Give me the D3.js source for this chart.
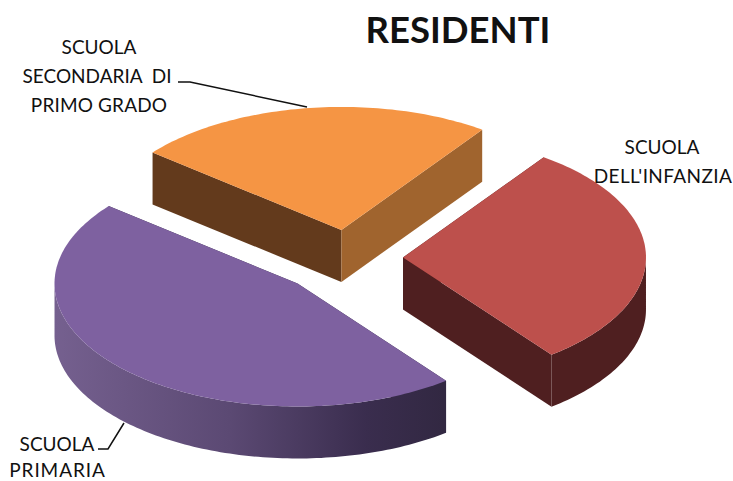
<!DOCTYPE html>
<html>
<head>
<meta charset="utf-8">
<script src="https://cdn.jsdelivr.net/npm/d3@7"></script>
<style>
html, body { margin: 0; padding: 0; background: #fff; }
text { font-family: Lato, "Open Sans", sans-serif; fill: #111; }
</style>
</head>
<body>
<div id="my_chart"></div>
<script>
// values (share of the pie, in %)
var categories = ["SCUOLA SECONDARIA DI PRIMO GRADO", "SCUOLA DELL'INFANZIA", "SCUOLA PRIMARIA"];
var values = [24, 29.7, 46.3];
var explode = [56, 54, 72];
var topColors = ["#f59544", "#bd504c", "#7e61a0"];
var startWallColors = ["#633a1c", "#4f1f20", "#322842"];
var endWallColors = ["#a0642e", "#4f1f20", "#322842"];
var outerWallColors = ["#a0642e", "#4f1f20", "url(#purpleWall)"];

var width = 733, height = 481;
var cx = 349, cy = 258, rx = 243, ry = 123, depth = 52;

var svg = d3.select("#my_chart").append("svg")
    .attr("width", width)
    .attr("height", height)
    .style("display", "block");

// gradient on the round side of the big slice
var grad = svg.append("defs").append("linearGradient")
    .attr("id", "purpleWall")
    .attr("gradientUnits", "userSpaceOnUse")
    .attr("x1", 55).attr("x2", 444).attr("y1", 0).attr("y2", 0);
grad.append("stop").attr("offset", "0").attr("stop-color", "#75608f");
grad.append("stop").attr("offset", "0.45").attr("stop-color", "#5b4973");
grad.append("stop").attr("offset", "0.8").attr("stop-color", "#3a2d4e");
grad.append("stop").attr("offset", "1").attr("stop-color", "#322842");

var pie = d3.pie().sort(null)
    .startAngle(-51 * Math.PI / 180)
    .endAngle(309 * Math.PI / 180);

var slices = pie(values);
var line = d3.line();

// angle is clockwise from 12 o'clock, the circle gets squashed in y
function project(a, r, o, drop) {
  return [
    cx + o * Math.sin(a.mid) + r * Math.sin(a.t),
    cy - o * Math.cos(a.mid) * ry / rx - r * Math.cos(a.t) * ry / rx + drop
  ];
}

slices.forEach(function(d, i) {
  var mid = (d.startAngle + d.endAngle) / 2;
  var o = explode[i];
  var apex = function(drop) { return project({mid: mid, t: 0}, 0, o, drop); };
  var rim = function(t, drop) { return project({mid: mid, t: t}, rx, o, drop); };
  var angles = d3.range(d.startAngle, d.endAngle, 0.02).concat([d.endAngle]);
  var g = svg.append("g").attr("class", "slice");

  // the two cut sides
  g.append("path")
    .attr("d", line([apex(0), rim(d.startAngle, 0), rim(d.startAngle, depth), apex(depth)]) + "Z")
    .attr("fill", startWallColors[i]);
  g.append("path")
    .attr("d", line([apex(0), rim(d.endAngle, 0), rim(d.endAngle, depth), apex(depth)]) + "Z")
    .attr("fill", endWallColors[i]);
  // round side, only the part turned to the viewer
  var front = angles.filter(function(t) { return Math.cos(t) <= 0.02; });
  if (front.length > 1) {
    var wall = front.map(function(t) { return rim(t, 0); })
      .concat(front.slice().reverse().map(function(t) { return rim(t, depth); }));
    g.append("path").attr("d", line(wall) + "Z").attr("fill", outerWallColors[i]);
  }
  // top
  g.append("path")
    .attr("d", line([apex(0)].concat(angles.map(function(t) { return rim(t, 0); }))) + "Z")
    .attr("fill", topColors[i]);
});

// leader lines
var leaders = [
  [[178, 82], [190, 82], [307, 107]],
  [[98, 449], [108, 449], [124, 423]]
];
svg.selectAll("path.leader")
  .data(leaders)
  .enter()
  .append("path")
    .attr("class", "leader")
    .attr("d", function(d) { return line(d); })
    .attr("fill", "none")
    .attr("stroke", "#111")
    .attr("stroke-width", 1.5);

// title and labels
svg.append("text")
    .attr("x", 458).attr("y", 43)
    .attr("text-anchor", "middle")
    .style("font-size", "36.5px")
    .style("font-weight", "bold")
    .text("RESIDENTI");

var labels = [
  {t: "SCUOLA", x: 99, y: 54, s: 0},
  {t: "SECONDARIA  DI", x: 97, y: 83, s: 0},
  {t: "PRIMO GRADO", x: 99, y: 112, s: 0.15},
  {t: "SCUOLA", x: 662, y: 154, s: 0},
  {t: "DELL'INFANZIA", x: 663, y: 183, s: 0.4},
  {t: "SCUOLA", x: 57, y: 451, s: 0},
  {t: "PRIMARIA", x: 57.5, y: 477, s: 0.9}
];
svg.selectAll("text.label")
  .data(labels)
  .enter()
  .append("text")
    .attr("class", "label")
    .attr("x", function(d) { return d.x; })
    .attr("y", function(d) { return d.y; })
    .attr("text-anchor", "middle")
    .style("white-space", "pre")
    .style("font-size", "19px")
    .style("letter-spacing", function(d) { return d.s + "px"; })
    .text(function(d) { return d.t; });
</script>
</body>
</html>
